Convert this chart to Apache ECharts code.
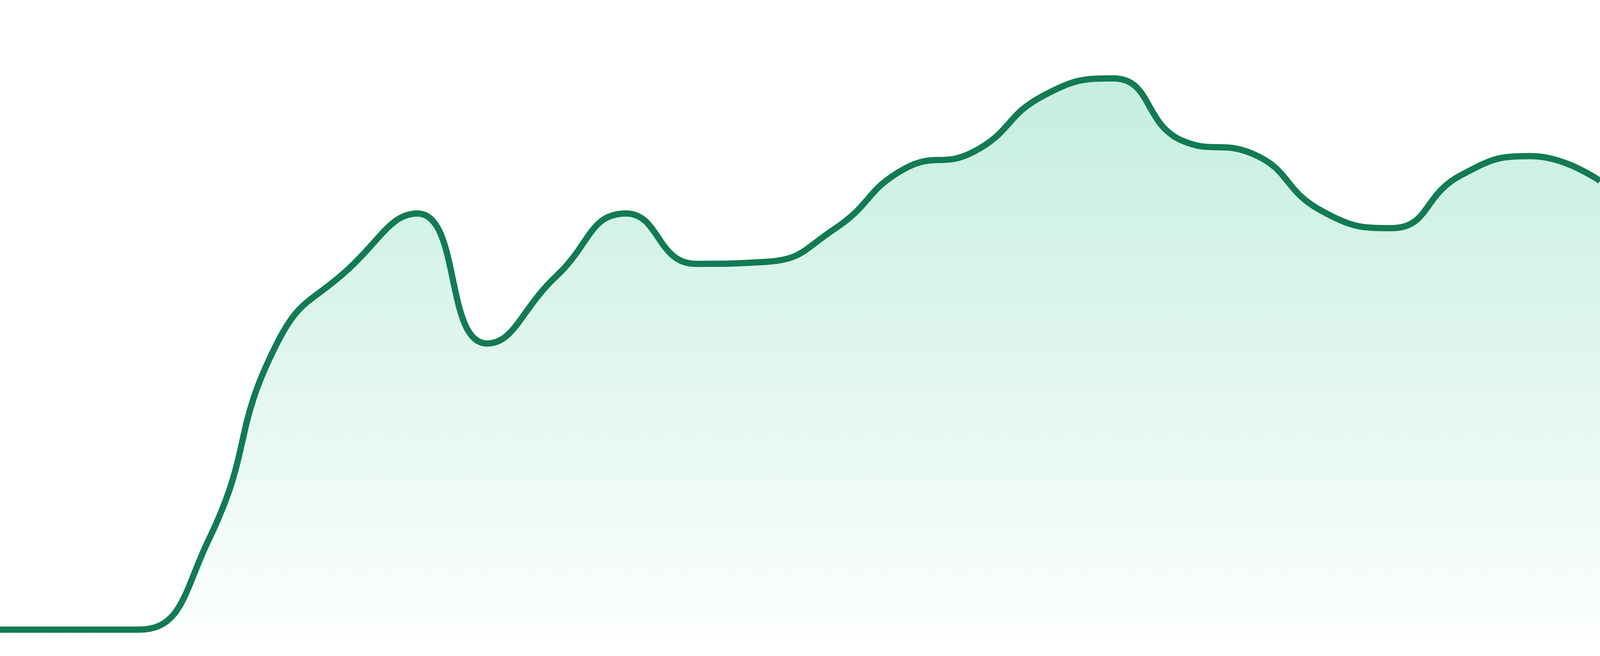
<!DOCTYPE html>
<html style="height: 100%">
<head>
    <meta charset="UTF-8">
    <title>Area trend</title>
    <script src="https://cdn.jsdelivr.net/npm/echarts/dist/echarts.min.js"></script>
    <style>
        #main {
            height: 100%;
        }
    </style>
</head>
<body style="height: 100%; margin: 0; background: #ffffff">
    <div id="main"></div>
    <script type="text/javascript">
        // 24 evenly spaced points, no visible axis labels in the picture
        var categories = ['1', '2', '3', '4', '5', '6', '7', '8', '9', '10', '11', '12',
            '13', '14', '15', '16', '17', '18', '19', '20', '21', '22', '23', '24'];
        var values = [1.2, 1.2, 1.2, 15.3, 46.5, 57.7, 66.5, 46.1, 56.7, 66.5, 58.6, 58.9,
            64.1, 73.5, 76.2, 85.0, 87.7, 77.9, 75.9, 66.9, 64.2, 72.5, 75.5, 71.6];
        var yMin = 0;
        var yMax = 100;

        var chartDom = document.getElementById('main');
        var myChart = echarts.init(chartDom);
        var option;

        option = {
            animation: false,
            grid: {
                left: 0,
                right: 0,
                top: 0,
                bottom: 48
            },
            xAxis: {
                type: 'category',
                boundaryGap: false,
                data: categories,
                show: false
            },
            yAxis: {
                type: 'value',
                min: yMin,
                max: yMax,
                show: false,
                splitLine: { show: false }
            },
            series: [{
                type: 'line',
                data: values,
                smooth: true,
                symbol: 'none',
                lineStyle: {
                    color: '#127b52',
                    width: 16
                },
                areaStyle: {
                    color: new echarts.graphic.LinearGradient(0, 0, 0, 1, [
                        { offset: 0, color: 'rgba(16, 185, 129, 0.35)' },
                        { offset: 1, color: 'rgba(16, 185, 129, 0.02)' }
                    ])
                }
            }]
        };

        myChart.setOption(option);
    </script>
</body>
</html>
